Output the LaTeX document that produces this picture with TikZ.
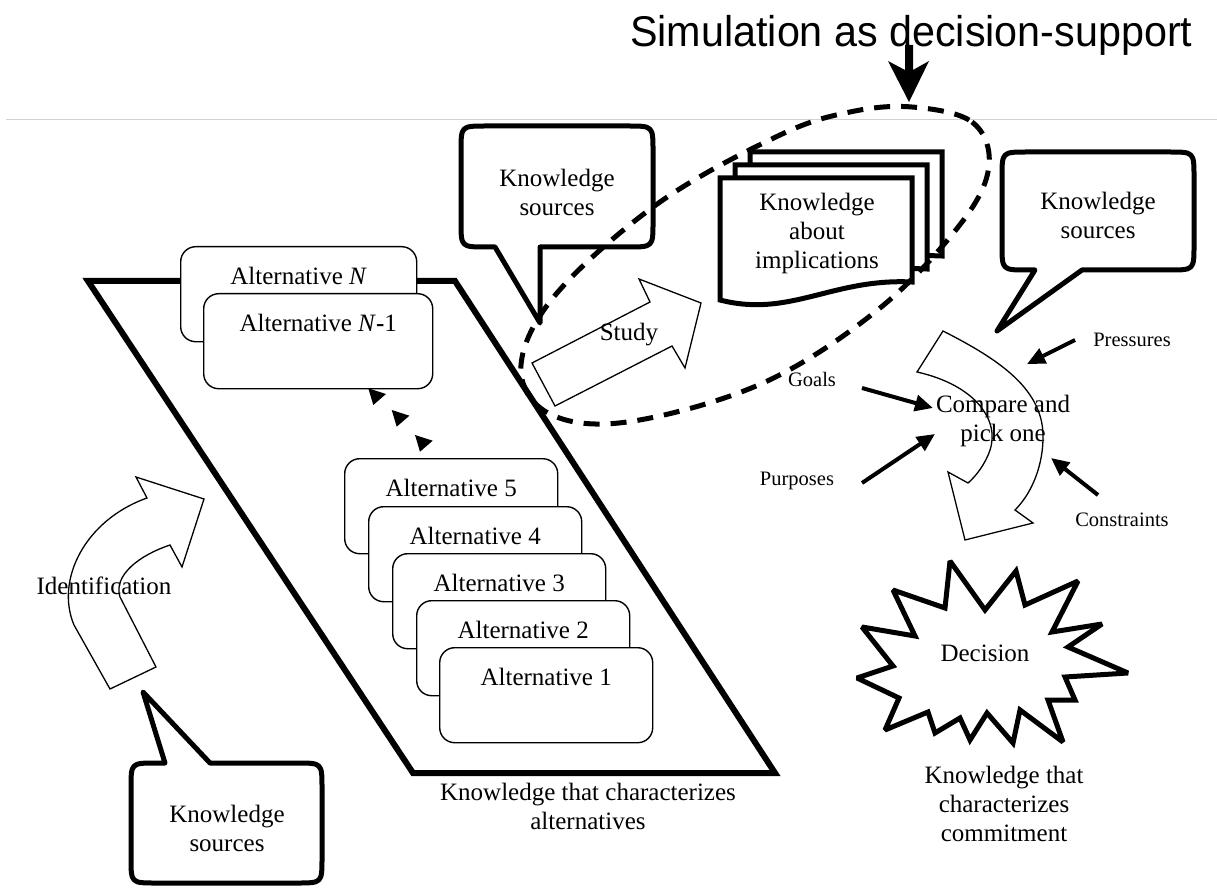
\documentclass[tikz,border=0pt]{standalone}
\usepackage{fontspec}
\usepackage{graphicx}
\setmainfont{Liberation Serif}
\newfontfamily\titlefont{Liberation Sans}
\usetikzlibrary{arrows.meta}
\begin{document}
\begin{tikzpicture}[x=1pt,y=-1pt,
  lbl/.style={font=\fontsize{25}{29}\selectfont, align=center, inner sep=0pt},
  smalllbl/.style={font=\fontsize{20.5}{24}\selectfont, inner sep=0pt},
  heavy/.style={line width=5pt, line join=round},
  callout/.style={heavy, fill=white},
  blockarrow/.style={line width=1.3pt, line join=miter, fill=white},
  card/.style={draw, line width=1.4pt, rounded corners=15pt, fill=white,
    anchor=north west, inner sep=0pt, text height=38pt, text depth=57pt,
    font=\fontsize{25}{29}\selectfont, minimum width=213pt},
  doc/.style={heavy, line join=miter, fill=white},
  force/.style={line width=4pt, -{Triangle[length=18pt,width=16pt]}},
  simdash/.style={line width=5pt, dash pattern=on 16pt off 11pt},
]
\useasboundingbox (0,0) rectangle (1217,890);

% separator rule under the heading
\draw[gray!35, line width=1pt] (6,120) -- (1217,120);

% knowledge that characterizes alternatives
\draw[line width=6pt, line join=miter] (88,281) -- (455,281) -- (775,773) -- (413,773) -- cycle;
\node[lbl] (altsText) at (588,806) {Knowledge that characterizes\\alternatives};

% alternatives
\node[card, minimum width=236pt] (altN) at (180,246) {Alternative \textit{N}};
\node[card, minimum width=229pt] (altN1) at (203,293) {Alternative \textit{N}\textbf{-}1};
\foreach \dx/\dy in {0/0, 23.4/21.7, 46.7/46.7}
  \fill[shift={(\dx,\dy)}] (368.3,388.3) -- (386,394) -- (373.3,405) -- cycle;
\node[card] (alt5) at (344,458) {Alternative 5};
\node[card] (alt4) at (368,506) {Alternative 4};
\node[card] (alt3) at (392,553) {Alternative 3};
\node[card] (alt2) at (416,600) {Alternative 2};
\node[card] (alt1) at (439,647) {Alternative 1};

% identification
\draw[blockarrow] (110,689) -- (156,667) -- (120,597)
  .. controls (113,575) and (140,555) .. (170,545) -- (182,567) -- (204,499)
  -- (136,477) -- (147,498) .. controls (85,520) and (55,580) .. (74,625) -- cycle;
\node[lbl] (ident) at (104,586) {Identification};

\draw[callout] (143,692) -- (210,763) -- (297,763) .. controls (322,763) .. (322,788)
  -- (322,858) .. controls (322,883) .. (297,883) -- (156,883) .. controls (131,883) .. (131,858)
  -- (131,788) .. controls (131,763) .. (156,763) -- (165,763) -- cycle;
\node[lbl] (ksBottom) at (227,828) {Knowledge\\sources};

% study
\draw[blockarrow] (555,406) -- (532,363) -- (650,302) -- (639,279) -- (701,303)
  -- (685,368) -- (672,346) -- cycle;
\node[lbl] (study) at (629,335) {Study};

\draw[callout] (540,323) -- (495,247) -- (486,247) .. controls (461,247) .. (461,222)
  -- (461,151) .. controls (461,126) .. (486,126) -- (628,126) .. controls (653,126) .. (653,151)
  -- (653,222) .. controls (653,247) .. (628,247) -- (540,247) -- cycle;
\node[lbl] (ksTop) at (557,192) {Knowledge\\sources};

% knowledge about implications (stack of documents)
\foreach \dx/\dy in {30/-26, 15/-13, 0/0}
  \draw[doc, shift={(\dx,\dy)}] (720,178) -- (912,178) -- (912,282)
    .. controls (832,278) and (790,318) .. (720,300) -- cycle;
\node[lbl] (implic) at (817,233) {Knowledge\\about\\implications};

% compare and pick one
\draw[blockarrow] (943,331) .. controls (1000,360) and (1045,390) .. (1043,440)
  .. controls (1042,470) and (1030,495) .. (1015,510) -- (1033,523) -- (965,540)
  -- (948,472) -- (968,483) .. controls (975,477) and (985,465) .. (990,450)
  .. controls (1000,420) and (975,385) .. (917,372) -- cycle;
\node[lbl] (compare) at (1003,421) {Compare and\\pick one};

\node[smalllbl] (goals) at (812,379) {Goals};
\node[smalllbl] (purposes) at (797,481) {Purposes};
\node[smalllbl] (pressures) at (1132,340) {Pressures};
\node[smalllbl] (constraints) at (1122,520) {Constraints};
\coordinate (goalsA) at (862,388);       \coordinate (goalsB) at (933,408);
\coordinate (purposesA) at (862,483);    \coordinate (purposesB) at (935,434);
\coordinate (pressuresA) at (1075,340);  \coordinate (pressuresB) at (1027,364);
\coordinate (constraintsA) at (1098,495);\coordinate (constraintsB) at (1051,458);
\draw[force] (goalsA) -- (goalsB);
\draw[force] (purposesA) -- (purposesB);
\draw[force] (pressuresA) -- (pressuresB);
\draw[force] (constraintsA) -- (constraintsB);

\draw[callout] (997,331) -- (1082,270) -- (1169,270) .. controls (1194,270) .. (1194,245)
  -- (1194,177) .. controls (1194,152) .. (1169,152) -- (1027,152) .. controls (1002,152) .. (1002,177)
  -- (1002,245) .. controls (1002,270) .. (1027,270) -- (1035,270) -- cycle;
\node[lbl] (ksRight) at (1098,215) {Knowledge\\sources};

% decision
\draw[heavy, line join=miter, miter limit=2.5, fill=white]
  (950,561) -- (985,610) -- (1016,571) -- (1025,605) -- (1078,581) -- (1052,632)
  -- (1102,624) -- (1068,647) -- (1128,673) -- (1065,677) -- (1075,700) -- (1048,700)
  -- (1063,742) -- (1020,710) -- (1013,743) -- (987,713) -- (970,740) -- (960,718)
  -- (935,733) -- (928,712) -- (885,730) -- (899,698) -- (857,678) -- (893,666)
  -- (862,627) -- (915,636) -- (893,590) -- (945,608) -- cycle;
\node[lbl] (decision) at (985,653) {Decision};
\node[lbl] (commit) at (1004,804) {Knowledge that\\characterizes\\commitment};

% simulation scope
\draw[simdash] plot[smooth cycle, tension=0.6] coordinates {(912,107) (972,122) (989,165)
  (962,222) (880,308) (763,383) (627,422) (548,413) (521,365) (557,293) (660,202)
  (780,135) (850,112)};

% heading
\node[anchor=base west, inner sep=0pt, font=\titlefont\fontsize{43}{50}\selectfont] (title)
  at (630,47) {\scalebox{0.96}[1]{Simulation as decision-support}};
\coordinate (simTop) at (909,102);
\fill (905,45) -- (913,45) -- (913,70) -- (929,61) -- (simTop) -- (888,61) -- (905,70) -- cycle;
\end{tikzpicture}
\end{document}
